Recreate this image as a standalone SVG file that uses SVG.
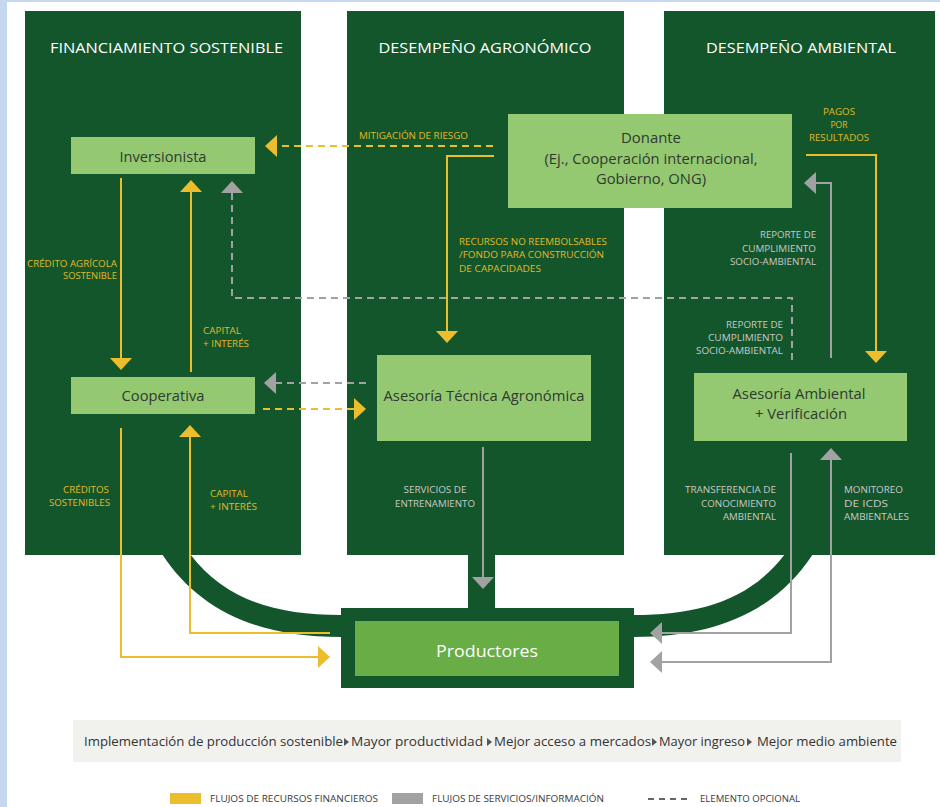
<svg xmlns="http://www.w3.org/2000/svg" width="940" height="807" viewBox="0 0 940 807">
<defs>
<style>
text{font-family:"Open Sans","Noto Sans","Liberation Sans",sans-serif}
.lane{fill:#13562b}
.box{fill:#94c972}
.ttl{font-size:14.5px;fill:#ffffff}
.nt{font-size:15px;fill:#2f3a2f}
.yl{font-size:9.5px;fill:#e2b82a}
.gl{font-size:9.5px;fill:#c8c8c8}
.fy{stroke:#ecbd2c;stroke-width:2;fill:none}
.fg{stroke:#a2a2a2;stroke-width:2;fill:none}
.dash{stroke-dasharray:7 5}
.lg{font-size:8.5px;fill:#3a3a3a}
.bn{font-size:13px;fill:#333333}
</style>
<marker id="ay" viewBox="0 0 12 22" refX="6" refY="11" markerWidth="12" markerHeight="22" markerUnits="userSpaceOnUse" orient="auto-start-reverse"><path d="M0,0 L12,11 L0,22 Z" fill="#ecbd2c"/></marker>
<marker id="ag" viewBox="0 0 12 22" refX="6" refY="11" markerWidth="12" markerHeight="22" markerUnits="userSpaceOnUse" orient="auto-start-reverse"><path d="M0,0 L12,11 L0,22 Z" fill="#a2a2a2"/></marker>
</defs>
<rect x="0" y="0" width="940" height="807" fill="#ffffff"/>
<rect x="0" y="0" width="940" height="2" fill="#c6d8f0"/>
<rect x="0" y="0" width="7" height="807" fill="#c6d8f0"/>

<g id="lanes">
<rect class="lane" x="25" y="11" width="276" height="544"/>
<rect class="lane" x="347" y="11" width="277" height="544"/>
<rect class="lane" x="664" y="11" width="271" height="544"/>
<path class="lane" d="M162,554 C200,612 260,637 341,637 L341,615 C275,615 225,600 190,554 Z"/>
<path class="lane" d="M813,554 C775,612 715,637 634,637 L634,615 C700,615 750,600 785,554 Z"/>
<rect class="lane" x="468" y="554" width="27" height="56"/>
<text class="ttl" x="166.5" y="53" text-anchor="middle" textLength="233" lengthAdjust="spacingAndGlyphs">FINANCIAMIENTO SOSTENIBLE</text>
<text class="ttl" x="485" y="53" text-anchor="middle" textLength="213" lengthAdjust="spacingAndGlyphs">DESEMPEÑO AGRONÓMICO</text>
<text class="ttl" x="801" y="53" text-anchor="middle" textLength="190" lengthAdjust="spacingAndGlyphs">DESEMPEÑO AMBIENTAL</text>
</g>

<g id="connectors">
<path class="fy" d="M121,178 V364" marker-end="url(#ay)"/>
<path class="fy" d="M191,372 V186" marker-end="url(#ay)"/>
<path class="fg dash" d="M792,360 V298 H232 V187" marker-end="url(#ag)"/>
<path class="fy dash" d="M493,146 H271" marker-end="url(#ay)"/>
<path class="fy" d="M494,156 H447 V337" marker-end="url(#ay)"/>
<path class="fy" d="M806,155 H876 V357" marker-end="url(#ay)"/>
<path class="fg" d="M831,358 V183 H810" marker-end="url(#ag)"/>
<path class="fg dash" d="M366,383 H270" marker-end="url(#ag)"/>
<path class="fy dash" d="M263,409 H360" marker-end="url(#ay)"/>
<path class="fy" d="M121,428 V657 H324" marker-end="url(#ay)"/>
<path class="fy" d="M330,633 H190 V431" marker-end="url(#ay)"/>
<path class="fg" d="M483,447 V583" marker-end="url(#ag)"/>
<path class="fg" d="M791,453 V633 H656" marker-end="url(#ag)"/>
<path class="fg" d="M656,662 H831 V454" marker-start="url(#ag)" marker-end="url(#ag)"/>

<text class="yl" x="359" y="139" textLength="109" lengthAdjust="spacingAndGlyphs">MITIGACIÓN DE RIESGO</text>
<text class="yl" x="117" y="267" text-anchor="end" textLength="90" lengthAdjust="spacingAndGlyphs">CRÉDITO AGRÍCOLA</text>
<text class="yl" x="117" y="279" text-anchor="end" textLength="54" lengthAdjust="spacingAndGlyphs">SOSTENIBLE</text>
<text class="yl" x="203" y="334" textLength="38" lengthAdjust="spacingAndGlyphs">CAPITAL</text>
<text class="yl" x="203" y="347" textLength="46" lengthAdjust="spacingAndGlyphs">+ INTERÉS</text>
<text class="yl" x="109" y="493" text-anchor="end" textLength="46" lengthAdjust="spacingAndGlyphs">CRÉDITOS</text>
<text class="yl" x="110" y="506" text-anchor="end" textLength="61" lengthAdjust="spacingAndGlyphs">SOSTENIBLES</text>
<text class="yl" x="210" y="497" textLength="38" lengthAdjust="spacingAndGlyphs">CAPITAL</text>
<text class="yl" x="210" y="510" textLength="47" lengthAdjust="spacingAndGlyphs">+ INTERÉS</text>
<text class="yl" x="459" y="245" textLength="148" lengthAdjust="spacingAndGlyphs">RECURSOS NO REEMBOLSABLES</text>
<text class="yl" x="459" y="258" textLength="145" lengthAdjust="spacingAndGlyphs">/FONDO PARA CONSTRUCCIÓN</text>
<text class="yl" x="459" y="272" textLength="82" lengthAdjust="spacingAndGlyphs">DE CAPACIDADES</text>
<text class="yl" x="839" y="115" text-anchor="middle" textLength="32" lengthAdjust="spacingAndGlyphs">PAGOS</text>
<text class="yl" x="839" y="128" text-anchor="middle" textLength="17" lengthAdjust="spacingAndGlyphs">POR</text>
<text class="yl" x="839" y="141" text-anchor="middle" textLength="60" lengthAdjust="spacingAndGlyphs">RESULTADOS</text>

<text class="gl" x="816" y="238" text-anchor="end" textLength="56" lengthAdjust="spacingAndGlyphs">REPORTE DE</text>
<text class="gl" x="816" y="252" text-anchor="end" textLength="74" lengthAdjust="spacingAndGlyphs">CUMPLIMIENTO</text>
<text class="gl" x="816" y="265" text-anchor="end" textLength="86" lengthAdjust="spacingAndGlyphs">SOCIO-AMBIENTAL</text>
<text class="gl" x="783" y="328" text-anchor="end" textLength="57" lengthAdjust="spacingAndGlyphs">REPORTE DE</text>
<text class="gl" x="783" y="341" text-anchor="end" textLength="75" lengthAdjust="spacingAndGlyphs">CUMPLIMIENTO</text>
<text class="gl" x="783" y="354" text-anchor="end" textLength="87" lengthAdjust="spacingAndGlyphs">SOCIO-AMBIENTAL</text>
<text class="gl" x="435" y="493" text-anchor="middle" textLength="63" lengthAdjust="spacingAndGlyphs">SERVICIOS DE</text>
<text class="gl" x="435" y="507" text-anchor="middle" textLength="80" lengthAdjust="spacingAndGlyphs">ENTRENAMIENTO</text>
<text class="gl" x="776" y="493" text-anchor="end" textLength="91" lengthAdjust="spacingAndGlyphs">TRANSFERENCIA DE</text>
<text class="gl" x="776" y="507" text-anchor="end" textLength="75" lengthAdjust="spacingAndGlyphs">CONOCIMIENTO</text>
<text class="gl" x="776" y="520" text-anchor="end" textLength="53" lengthAdjust="spacingAndGlyphs">AMBIENTAL</text>
<text class="gl" x="844" y="493" textLength="59" lengthAdjust="spacingAndGlyphs">MONITOREO</text>
<text class="gl" x="844" y="507" textLength="44" lengthAdjust="spacingAndGlyphs">DE ICDS</text>
<text class="gl" x="844" y="520" textLength="65" lengthAdjust="spacingAndGlyphs">AMBIENTALES</text>
</g>

<g id="inversionista">
<rect class="box" x="71" y="137" width="184" height="37"/>
<text class="nt" x="163" y="162" text-anchor="middle" textLength="87" lengthAdjust="spacingAndGlyphs">Inversionista</text>
</g>
<g id="cooperativa">
<rect class="box" x="71" y="377" width="184" height="37"/>
<text class="nt" x="163" y="401" text-anchor="middle" textLength="83" lengthAdjust="spacingAndGlyphs">Cooperativa</text>
</g>
<g id="donante">
<rect class="box" x="508" y="114" width="284" height="94"/>
<text class="nt" x="651" y="143" text-anchor="middle" textLength="60" lengthAdjust="spacingAndGlyphs">Donante</text>
<text class="nt" x="651" y="164" text-anchor="middle" textLength="213" lengthAdjust="spacingAndGlyphs">(Ej., Cooperación internacional,</text>
<text class="nt" x="651" y="184" text-anchor="middle" textLength="110" lengthAdjust="spacingAndGlyphs">Gobierno, ONG)</text>
</g>
<g id="asesoria-tecnica">
<rect class="box" x="377" y="355" width="214" height="86"/>
<text class="nt" x="484" y="401" text-anchor="middle" textLength="201" lengthAdjust="spacingAndGlyphs">Asesoría Técnica Agronómica</text>
</g>
<g id="asesoria-ambiental">
<rect class="box" x="694" y="373" width="213" height="68"/>
<text class="nt" x="799" y="399" text-anchor="middle" textLength="133" lengthAdjust="spacingAndGlyphs">Asesoría Ambiental</text>
<text class="nt" x="801" y="419" text-anchor="middle" textLength="92" lengthAdjust="spacingAndGlyphs">+ Verificación</text>
</g>
<g id="productores">
<rect class="lane" x="341" y="608" width="293" height="80"/>
<rect x="355" y="621" width="264" height="55" fill="#68ad45"/>
<text x="487" y="657" text-anchor="middle" font-size="17" fill="#ffffff" textLength="102" lengthAdjust="spacingAndGlyphs">Productores</text>
</g>

<g id="banner">
<rect x="73" y="720" width="828" height="42" fill="#f1f1ed"/>
<text class="bn" x="84" y="746" textLength="259" lengthAdjust="spacingAndGlyphs">Implementación de producción sostenible</text>
<polygon points="344,738 349,742 344,746" fill="#555"/>
<text class="bn" x="351" y="746" textLength="132" lengthAdjust="spacingAndGlyphs">Mayor productividad</text>
<polygon points="487,738 492,742 487,746" fill="#555"/>
<text class="bn" x="494" y="746" textLength="157" lengthAdjust="spacingAndGlyphs">Mejor acceso a mercados</text>
<polygon points="652,738 657,742 652,746" fill="#555"/>
<text class="bn" x="659" y="746" textLength="86" lengthAdjust="spacingAndGlyphs">Mayor ingreso</text>
<polygon points="747,738 752,742 747,746" fill="#555"/>
<text class="bn" x="757" y="746" textLength="140" lengthAdjust="spacingAndGlyphs">Mejor medio ambiente</text>
</g>

<g id="legend">
<rect x="170" y="793" width="31" height="11" fill="#ecbd2c"/>
<text class="lg" x="210" y="802" textLength="168" lengthAdjust="spacingAndGlyphs">FLUJOS DE RECURSOS FINANCIEROS</text>
<rect x="392" y="793" width="31" height="11" fill="#a2a2a2"/>
<text class="lg" x="432" y="802" textLength="172" lengthAdjust="spacingAndGlyphs">FLUJOS DE SERVICIOS/INFORMACIÓN</text>
<line x1="648" y1="799" x2="689" y2="799" stroke="#333" stroke-width="1.5" stroke-dasharray="6 5"/>
<text class="lg" x="700" y="802" textLength="100" lengthAdjust="spacingAndGlyphs">ELEMENTO OPCIONAL</text>
</g>
</svg>
